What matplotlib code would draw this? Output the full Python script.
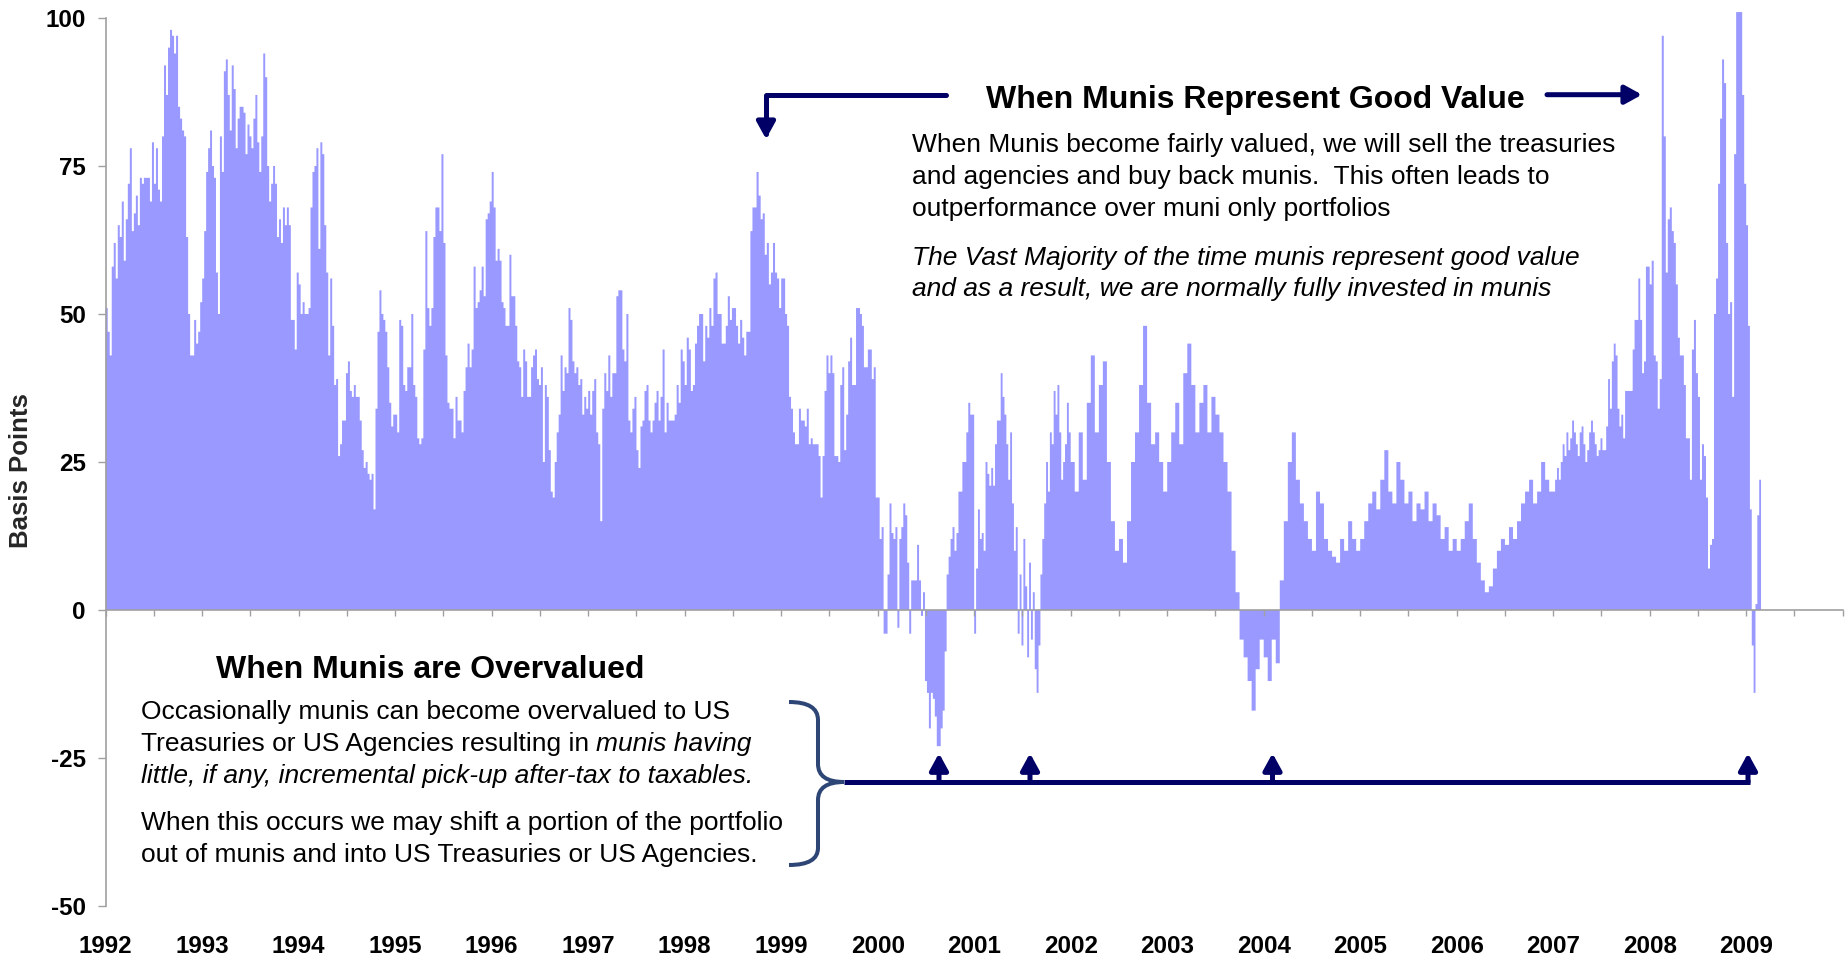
import numpy as np
import matplotlib.pyplot as plt
from matplotlib.lines import Line2D
from matplotlib.patches import FancyArrowPatch, PathPatch
from matplotlib.path import Path
from matplotlib.transforms import blended_transform_factory

plt.rcParams['font.family'] = ['Liberation Sans', 'DejaVu Sans']

# --- DATA: weekly muni spread (basis points), one list per calendar year ---
spread_1992 = [51, 47, 43, 58, 62, 56, 65, 63, 69, 59, 66, 72, 78, 64, 67, 70, 65, 73, 72, 73, 73, 73, 69, 79,
               72, 78, 71, 69, 80, 92, 87, 95, 98, 97, 94, 97, 85, 83, 81, 80, 63, 50, 43, 43, 49, 45, 47, 52]
spread_1993 = [56, 64, 74, 78, 81, 75, 73, 57, 50, 80, 74, 91, 93, 87, 81, 92, 88, 78, 83, 85, 85, 84, 77, 82,
               80, 78, 83, 87, 79, 74, 80, 94, 90, 75, 69, 72, 75, 72, 63, 66, 62, 68, 65, 68, 65, 49, 49, 44, 57]
spread_1994 = [55, 50, 52, 50, 50, 51, 68, 74, 75, 78, 61, 79, 77, 65, 57, 43, 56, 48, 38, 39, 26, 28, 32, 32,
               40, 42, 37, 36, 38, 36, 36, 32, 27, 24, 25, 23, 22, 23, 17, 34, 47, 54, 50, 49, 47, 41, 35, 31, 33]
spread_1995 = [33, 30, 49, 48, 38, 37, 41, 41, 50, 38, 36, 29, 28, 29, 44, 64, 51, 48, 51, 63, 68, 68, 64, 77,
               62, 43, 35, 34, 34, 29, 36, 32, 32, 30, 37, 41, 45, 41, 44, 58, 51, 52, 54, 58, 53, 66, 67, 69]
spread_1996 = [74, 68, 59, 61, 59, 52, 51, 48, 48, 60, 53, 53, 48, 42, 41, 36, 44, 42, 36, 36, 41, 43, 44, 39,
               38, 41, 25, 38, 36, 27, 20, 19, 25, 30, 33, 43, 37, 41, 40, 51, 49, 42, 40, 41, 38, 39, 33, 36, 34]
spread_1997 = [37, 33, 37, 39, 30, 28, 15, 34, 40, 37, 43, 36, 40, 40, 53, 54, 54, 44, 42, 50, 32, 30, 34, 36,
               27, 24, 31, 32, 37, 38, 32, 30, 32, 35, 37, 32, 36, 44, 30, 35, 32, 32, 32, 33, 38, 35, 44, 42]
spread_1998 = [38, 46, 44, 37, 38, 45, 48, 50, 50, 42, 48, 46, 51, 48, 56, 57, 50, 50, 45, 45, 48, 53, 49, 51,
               51, 48, 45, 49, 46, 43, 47, 47, 64, 68, 68, 74, 70, 66, 67, 60, 62, 55, 57, 62, 57, 56, 51]
spread_1999 = [56, 56, 50, 48, 36, 34, 30, 28, 28, 34, 32, 32, 31, 34, 28, 29, 28, 28, 28, 26, 19, 26, 37, 43,
               40, 43, 40, 26, 26, 25, 38, 41, 27, 33, 42, 46, 38, 38, 51, 51, 50, 48, 41, 41, 44, 44, 39, 41, 19]
spread_2000 = [19, 12, 14, -4, -4, 6, 18, 13, 12, 14, -3, 12, 14, 18, 16, 8, -4, 5, 5, 5, 11, 5, -1, 3,
               -12, -14, -20, -14, -15, -18, -23, -23, -20, -17, -7, 6, 9, 12, 14, 10, 13, 20, 20, 25, 25, 30,
               35, 33, 33]
spread_2001 = [-4, 7, 17, 12, 13, 10, 25, 23, 21, 24, 21, 28, 32, 32, 40, 36, 33, 28, 22, 30, 18, 10, 14, -4,
               6, -6, 12, 4, -8, 8, -5, 3, -10, -14, -6, 6, 12, 18, 25, 20, 30, 28, 37, 33, 38, 30, 22, 25,
               28, 35, 30]
spread_2002 = [25, 20, 30, 22, 35, 43, 30, 38, 42, 25, 15, 10, 12, 8, 15, 25, 30, 38, 48, 35, 28, 30, 25, 20]
spread_2003 = [25, 30, 35, 28, 40, 45, 38, 30, 35, 38, 30, 36, 33, 30, 25, 20, 10, 3, -5, -8, -12, -17, -10, -5]
spread_2004 = [-8, -12, -5, -9, 5, 15, 25, 30, 22, 18, 15, 12, 10, 20, 18, 12, 10, 9, 8, 12, 10, 15, 12, 10]
spread_2005 = [12, 15, 18, 20, 17, 22, 27, 20, 18, 25, 22, 18, 20, 15, 18, 17, 20, 15, 18, 16, 12, 14, 10, 12]
spread_2006 = [10, 12, 15, 18, 12, 8, 5, 3, 4, 7, 10, 12, 11, 14, 12, 15, 18, 20, 22, 18, 20, 25, 22, 20]
spread_2007 = [20, 22, 24, 22, 25, 28, 26, 30, 27, 29, 32, 30, 28, 26, 30, 31, 28, 25, 27, 30, 32, 30, 28, 26,
               27, 29, 27, 27, 31, 39, 34, 42, 45, 43, 34, 31, 33, 29, 37, 37, 37, 37, 44, 49, 49, 56, 49, 40,
               42, 58, 58]
spread_2008 = [55, 59, 43, 42, 34, 39, 97, 80, 57, 66, 68, 64, 62, 55, 46, 43, 43, 38, 29, 29, 22, 44, 49, 40,
               36, 22, 28, 26, 19, 7, 11, 12, 50, 56, 72, 83, 93, 89, 62, 50, 52, 36, 77, 101, 101, 101, 87, 72]
spread_2009 = [65, 48, 17, -6, -14, 1, 16, 22]

years = list(range(1992, 2010))
spreads = [spread_1992, spread_1993, spread_1994, spread_1995, spread_1996, spread_1997,
           spread_1998, spread_1999, spread_2000, spread_2001, spread_2002, spread_2003,
           spread_2004, spread_2005, spread_2006, spread_2007, spread_2008, spread_2009]
WEEKS_PER_YEAR = 52  # 2009 is only partly covered
y_ticks = [-50, -25, 0, 25, 50, 75, 100]

BAR = '#9999FF'
NAVY = '#000066'
BRACE = '#2E4676'
AXIS = '#A0A0A0'

W, H = 1845, 959


def fx(px):
    return px / W


def fy(py):
    return 1 - py / H


fig = plt.figure(figsize=(W / 100, H / 100), dpi=100)
ax = fig.add_axes([fx(105.7), fy(906), (1842.7 - 105.7) / W, 888 / H])

# weekly bars, drawn as one filled step outline
edges, vals = [], []
for yr, v in zip(years, spreads):
    n = len(v) if yr < years[-1] else WEEKS_PER_YEAR
    edges.extend(yr + np.arange(len(v)) / n)
    vals.extend(v)
edges.append(years[-1] + len(spreads[-1]) / WEEKS_PER_YEAR)
ax.stairs(vals, edges, baseline=0, fill=True, color=BAR, lw=0, clip_on=False, zorder=1)

ax.set_xlim(1992, 2010)
ax.set_ylim(-50, 100)
for s in ['top', 'right']:
    ax.spines[s].set_visible(False)
ax.spines['left'].set_color(AXIS)
ax.spines['bottom'].set_color(AXIS)
ax.spines['bottom'].set_position(('data', 0))
ax.spines['left'].set_linewidth(1.2)
ax.spines['bottom'].set_linewidth(1.2)
ax.set_yticks(y_ticks)
ax.set_yticklabels([str(t) for t in y_ticks], fontsize=17.4, fontweight='bold')
ax.tick_params(axis='y', length=5.8, width=1, color=AXIS, pad=8.6)
ax.set_xticks(np.arange(1992, 2010.01, 0.5))
ax.set_xticklabels([])
ax.tick_params(axis='x', length=4.3, width=1, color=AXIS, direction='out')
ax.patch.set_alpha(0)

# year labels sit well below the plot
trans = blended_transform_factory(ax.transData, fig.transFigure)
for yr in years:
    ax.text(yr, fy(953), str(yr), transform=trans, ha='center', va='baseline',
            fontsize=17.4, fontweight='bold')

fig.text(fx(21), fy(471), 'Basis Points', rotation=90, ha='center', va='center',
         fontsize=18.5, fontweight='bold', color='#262626')

# --- annotations ---
def put(x, y, s, **kw):
    return fig.text(fx(x), fy(y), s, va='baseline', **kw)


BODY = 19
put(1255, 108, 'When Munis Represent Good Value', ha='center', fontsize=23, fontweight='bold')
put(912, 152, 'When Munis become fairly valued, we will sell the treasuries', fontsize=BODY)
put(912, 184, 'and agencies and buy back munis.  This often leads to', fontsize=BODY)
put(912, 216, 'outperformance over muni only portfolios', fontsize=BODY)
put(912, 265, 'The Vast Majority of the time munis represent good value', fontsize=BODY, style='italic')
put(912, 296, 'and as a result, we are normally fully invested in munis', fontsize=BODY, style='italic')

put(430, 678, 'When Munis are Overvalued', ha='center', fontsize=23, fontweight='bold')
put(140.6, 718.5, 'Occasionally munis can become overvalued to US', fontsize=BODY)
t_reg = put(140.6, 751, 'Treasuries or US Agencies resulting in', fontsize=BODY)
renderer = fig.canvas.get_renderer()
bb = t_reg.get_window_extent(renderer)
space_px = 0.278 * BODY * 100 / 72
put(bb.x1 + space_px, 751, 'munis having', fontsize=BODY, style='italic')
put(140.6, 782.5, 'little, if any, incremental pick-up after-tax to taxables.', fontsize=BODY, style='italic')
put(140.6, 830, 'When this occurs we may shift a portion of the portfolio', fontsize=BODY)
put(140.6, 862, 'out of munis and into US Treasuries or US Agencies.', fontsize=BODY)


def arrow(p0, p1, conn='arc3'):
    a = FancyArrowPatch((fx(p0[0]), fy(p0[1])), (fx(p1[0]), fy(p1[1])),
                        transform=fig.transFigure, connectionstyle=conn,
                        arrowstyle='-|>,head_length=10,head_width=5.5', mutation_scale=1,
                        color=NAVY, lw=3.6, shrinkA=0, shrinkB=0)
    fig.add_artist(a)


arrow((946, 94.7), (766, 139), conn='angle,angleA=0,angleB=90,rad=0')
arrow((1547, 94.7), (1642, 94.7))

fig.add_artist(Line2D([fx(844), fx(1750)], [fy(782.3), fy(782.3)], color=NAVY, lw=3.6,
                      solid_capstyle='butt', transform=fig.transFigure))
for xp in [939, 1030, 1272.5, 1748]:
    arrow((xp, 782.3), (xp, 753.3))

brace = Path([(789, 702), (818, 702), (818, 720), (818, 764), (818, 782), (844, 782),
              (818, 782), (818, 800), (818, 848), (818, 865), (789, 865)],
             [Path.MOVETO, Path.CURVE3, Path.CURVE3, Path.LINETO, Path.CURVE3, Path.CURVE3,
              Path.CURVE3, Path.CURVE3, Path.LINETO, Path.CURVE3, Path.CURVE3])
brace = Path(np.column_stack([fx(brace.vertices[:, 0]), fy(brace.vertices[:, 1])]), brace.codes)
fig.add_artist(PathPatch(brace, transform=fig.transFigure, fill=False, edgecolor=BRACE, lw=2.9))

fig.savefig('out.png', dpi=100)
